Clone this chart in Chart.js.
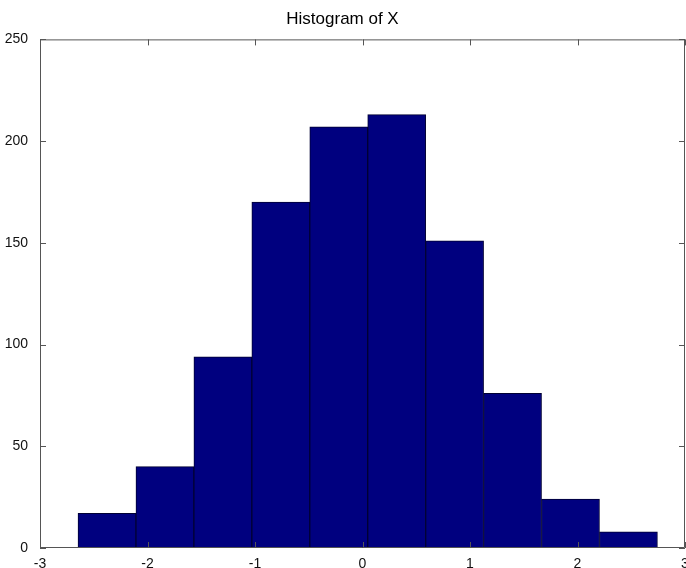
<!DOCTYPE html>
<html>
<head>
<meta charset="utf-8">
<script src="https://cdn.jsdelivr.net/npm/chart.js@4.4.0/dist/chart.umd.min.js"></script>
<style>
  html, body { margin: 0; padding: 0; background: #fff; overflow: hidden; }
  canvas { display: block; }
</style>
</head>
<body>
<canvas id="histChart" width="686" height="568"></canvas>
<script>
// histogram data (10 bins of X)
const binCenters = [-2.377, -1.838, -1.299, -0.760, -0.221, 0.318, 0.857, 1.396, 1.935, 2.474];
const counts = [17, 40, 94, 170, 207, 213, 151, 76, 24, 8];
const xTicks = [-3, -2, -1, 0, 1, 2, 3];
const yTicks = [0, 50, 100, 150, 200, 250];

const labelFont = { family: "'Liberation Sans', Arial, sans-serif", size: 14 };

// MATLAB-style box with inward tick marks
const axesBox = {
    id: 'axesBox',
    afterDatasetsDraw(chart) {
        const { ctx, chartArea: a, scales: { x, y } } = chart;
        const len = 6;
        ctx.save();
        ctx.strokeStyle = '#555';
        ctx.lineWidth = 1;
        ctx.beginPath();
        ctx.rect(a.left + 0.5, a.top + 0.5, a.right - a.left - 1, a.bottom - a.top - 1);
        xTicks.forEach(v => {
            const px = Math.round(x.getPixelForValue(v)) + 0.5;
            ctx.moveTo(px, a.top); ctx.lineTo(px, a.top + len);
            ctx.moveTo(px, a.bottom); ctx.lineTo(px, a.bottom - len);
        });
        yTicks.forEach(v => {
            const py = Math.round(y.getPixelForValue(v)) + 0.5;
            ctx.moveTo(a.left, py); ctx.lineTo(a.left + len, py);
            ctx.moveTo(a.right, py); ctx.lineTo(a.right - len, py);
        });
        ctx.stroke();
        ctx.restore();
    }
};

new Chart(document.getElementById('histChart').getContext('2d'), {
    type: 'bar',
    data: {
        datasets: [{
            data: binCenters.map((c, i) => ({ x: c, y: counts[i] })),
            backgroundColor: '#00007f',
            borderColor: '#000033',
            borderWidth: 1,
            barPercentage: 1,
            categoryPercentage: 1
        }]
    },
    options: {
        responsive: false,
        animation: false,
        layout: { padding: { left: 0, right: 1, top: 0, bottom: 0 } },
        plugins: {
            legend: { display: false },
            tooltip: { enabled: false },
            title: {
                display: true,
                text: 'Histogram of X',
                color: '#000',
                font: { family: "'Liberation Sans', Arial, sans-serif", size: 17, weight: 'normal' },
                padding: { top: 9, bottom: 10 }
            }
        },
        scales: {
            x: {
                type: 'linear',
                min: -3,
                max: 3,
                offset: false,
                grid: { display: false },
                border: { display: false },
                ticks: {
                    stepSize: 1,
                    color: '#111',
                    font: labelFont,
                    padding: 0,
                    maxRotation: 0
                },
                afterFit(scale) {
                    scale.height = 20;
                    scale.paddingLeft = 0;
                    scale.paddingRight = 0;
                }
            },
            y: {
                min: 0,
                max: 250,
                grid: { display: false },
                border: { display: false },
                ticks: {
                    stepSize: 50,
                    color: '#111',
                    font: labelFont,
                    padding: 4
                },
                afterFit(scale) {
                    scale.width = 40;
                    scale.paddingTop = 0;
                    scale.paddingBottom = 0;
                }
            }
        }
    },
    plugins: [axesBox]
});
</script>
</body>
</html>
